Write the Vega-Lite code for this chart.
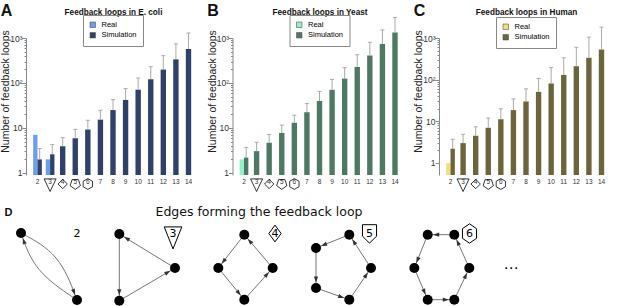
{
  "$schema": "https://vega.github.io/schema/vega-lite/v6.json",
  "background": "white",
  "padding": {"left": 0, "top": 3, "right": 0, "bottom": 0},
  "config": {
    "view": {"stroke": null},
    "font": "Liberation Sans",
    "axis": {"grid": false},
    "title": {"font": "Liberation Sans"}
  },
  "spacing": 11,
  "resolve": {"scale": {"x": "independent", "y": "independent", "shape": "independent", "color": "independent"}},
  "vconcat": [
    {
      "hconcat": [
        {
          "width": 174, "height": 137,
          "title": {"text": "A", "anchor": "start", "frame": "bounds", "fontSize": 16, "fontWeight": "bold", "offset": -12, "color": "#111"},
          "data": {"values": [
            {"n": 2, "type": "Real", "v": 7},
            {"n": 2, "type": "Simulation", "v": 2.0, "up": 3.5},
            {"n": 3, "type": "Real", "v": 2},
            {"n": 3, "type": "Simulation", "v": 2.6, "up": 4.3},
            {"n": 4, "type": "Simulation", "v": 3.9, "up": 6.1},
            {"n": 5, "type": "Simulation", "v": 5.9, "up": 9.3},
            {"n": 6, "type": "Simulation", "v": 9.3, "up": 14.8},
            {"n": 7, "type": "Simulation", "v": 15.3, "up": 24.7},
            {"n": 8, "type": "Simulation", "v": 25, "up": 42.6},
            {"n": 9, "type": "Simulation", "v": 42, "up": 75},
            {"n": 10, "type": "Simulation", "v": 71, "up": 129},
            {"n": 11, "type": "Simulation", "v": 121, "up": 230},
            {"n": 12, "type": "Simulation", "v": 199, "up": 405},
            {"n": 13, "type": "Simulation", "v": 335, "up": 740},
            {"n": 14, "type": "Simulation", "v": 570, "up": 1290}
          ]},
          "resolve": {"axis": {"x": "independent"}},
          "layer": [
            {
              "transform": [{"joinaggregate": [{"op": "count", "as": "k"}], "groupby": ["n"]}, {"filter": "datum.k == 1"}],
              "mark": {"type": "bar", "width": {"band": 0.62}},
              "encoding": {
                "x": {"field": "n", "type": "ordinal", "scale": {"domain": [2,3,4,5,6,7,8,9,10,11,12,13,14], "paddingInner": 0.31, "paddingOuter": 0.57},
                      "axis": {"orient": "bottom", "title": null, "labelAngle": 0, "ticks": false, "tickSize": 0, "domain": false, "labelFontSize": 6.5, "labelPadding": 3, "labelColor": "#333"}},
                "y": {"field": "v", "type": "quantitative", "scale": {"type": "log", "domain": [0.9, 1000], "nice": false},
                      "axis": {"title": "Number of feedback loops", "titleFontSize": 10.5, "titleFontWeight": "normal", "titleColor": "#222", "titlePadding": -1, "titleY": 53,
                               "values": [1,2,3,4,5,6,7,8,9,10,20,30,40,50,60,70,80,90,100,200,300,400,500,600,700,800,900,1000],
                               "labelExpr": "datum.value == 1 ? '1' : datum.value == 10 ? '10' : datum.value == 100 ? '10²' : datum.value == 1000 ? '10³' : ''",
                               "labelOverlap": false, "labelFontSize": 8.5, "labelColor": "#333", "labelPadding": 0,
                               "tickSize": {"condition": {"test": "datum.value == 1 || datum.value == 10 || datum.value == 100 || datum.value == 1000", "value": 4}, "value": 2},
                               "tickColor": "#888", "domainColor": "#888"}},
                "y2": {"datum": 0.9},
                "color": {"field": "type", "type": "nominal", "scale": {"domain": ["Real", "Simulation"], "range": ["#6a9ef2", "#2f406b"]},
                          "legend": {"orient": "none", "legendX": 57, "legendY": -23, "title": null, "strokeColor": "#888", "padding": 6, "labelFontSize": 7.5, "symbolType": "square", "symbolSize": 30, "rowPadding": 1.5, "labelOffset": 5, "symbolStrokeColor": "#555", "symbolStrokeWidth": 0.6}}
              }
            },
            {
              "transform": [{"joinaggregate": [{"op": "count", "as": "k"}], "groupby": ["n"]}, {"filter": "datum.k == 2"}],
              "mark": {"type": "bar"},
              "encoding": {
                "x": {"field": "n", "type": "ordinal", "axis": {"orient": "top", "title": "Feedback loops in E. coli", "labels": false, "ticks": false, "domain": false, "titleFontSize": 8.2, "titleFontWeight": "bold", "titleColor": "#111", "titlePadding": 22}},
                "xOffset": {"field": "type", "type": "nominal", "scale": {"domain": ["Real", "Simulation"], "paddingInner": 0, "paddingOuter": 0}},
                "y": {"field": "v", "type": "quantitative"},
                "y2": {"datum": 0.9},
                "color": {"field": "type", "type": "nominal"}
              }
            },
            {
              "transform": [{"joinaggregate": [{"op": "count", "as": "k"}], "groupby": ["n"]}, {"filter": "datum.k == 1"}],
              "mark": {"type": "rule", "color": "#aaaaaa", "strokeWidth": 1},
              "encoding": {
                "x": {"field": "n", "type": "ordinal", "axis": null},
                "y": {"field": "v", "type": "quantitative"},
                "y2": {"field": "up"}
              }
            },
            {
              "transform": [{"joinaggregate": [{"op": "count", "as": "k"}], "groupby": ["n"]}, {"filter": "datum.k == 2 && datum.type == 'Simulation'"}],
              "mark": {"type": "rule", "color": "#aaaaaa", "strokeWidth": 1},
              "encoding": {
                "x": {"field": "n", "type": "ordinal", "axis": null},
                "xOffset": {"field": "type", "type": "nominal"},
                "y": {"field": "v", "type": "quantitative"},
                "y2": {"field": "up"}
              }
            },
            {
              "transform": [{"joinaggregate": [{"op": "count", "as": "k"}], "groupby": ["n"]}, {"filter": "datum.k == 1"}],
              "mark": {"type": "tick", "color": "#aaaaaa", "size": 4, "thickness": 1, "opacity": 1},
              "encoding": {
                "x": {"field": "n", "type": "ordinal", "axis": null},
                "y": {"field": "up", "type": "quantitative"}
              }
            },
            {
              "transform": [{"joinaggregate": [{"op": "count", "as": "k"}], "groupby": ["n"]}, {"filter": "datum.k == 2 && datum.type == 'Simulation'"}],
              "mark": {"type": "tick", "color": "#aaaaaa", "size": 4, "thickness": 1, "opacity": 1},
              "encoding": {
                "x": {"field": "n", "type": "ordinal", "axis": null},
                "xOffset": {"field": "type", "type": "nominal"},
                "y": {"field": "up", "type": "quantitative"}
              }
            },
            {
              "data": {"values": [{"n": 3}, {"n": 4}, {"n": 5}, {"n": 6}]},
              "mark": {"type": "point", "filled": false, "color": "#000", "size": 144, "strokeWidth": 0.8, "opacity": 1},
              "encoding": {
                "x": {"field": "n", "type": "ordinal", "axis": null},
                "y": {"datum": 0.568, "type": "quantitative"},
                "shape": {"field": "n", "type": "nominal", "legend": null, "scale": {"domain": [3, 4, 5, 6], "range": ["M-1,-0.85L1,-0.85L0,1.25Z", "M0,-0.78L0.78,0L0,0.78L-0.78,0Z", "M0,0.9L0.856,0.278L0.529,-0.728L-0.529,-0.728L-0.856,0.278Z", "M0,-0.9L0.78,-0.45L0.78,0.45L0,0.9L-0.78,0.45L-0.78,-0.45Z"]}}
              }
            }
          ]
        },
        {
          "width": 174, "height": 137,
          "title": {"text": "B", "anchor": "start", "frame": "bounds", "fontSize": 16, "fontWeight": "bold", "offset": -12, "color": "#111"},
          "data": {"values": [
            {"n": 2, "type": "Real", "v": 2},
            {"n": 2, "type": "Simulation", "v": 2.2, "up": 3.7},
            {"n": 3, "type": "Simulation", "v": 3.05, "up": 4.8},
            {"n": 4, "type": "Simulation", "v": 4.7, "up": 7.2},
            {"n": 5, "type": "Simulation", "v": 7.7, "up": 11.6},
            {"n": 6, "type": "Simulation", "v": 13, "up": 19.2},
            {"n": 7, "type": "Simulation", "v": 22.4, "up": 34.8},
            {"n": 8, "type": "Simulation", "v": 39.7, "up": 65},
            {"n": 9, "type": "Simulation", "v": 70.5, "up": 120},
            {"n": 10, "type": "Simulation", "v": 125, "up": 219},
            {"n": 11, "type": "Simulation", "v": 227, "up": 425},
            {"n": 12, "type": "Simulation", "v": 408, "up": 804},
            {"n": 13, "type": "Simulation", "v": 740, "up": 1510},
            {"n": 14, "type": "Simulation", "v": 1320, "up": 2860}
          ]},
          "resolve": {"axis": {"x": "independent"}},
          "layer": [
            {
              "transform": [{"joinaggregate": [{"op": "count", "as": "k"}], "groupby": ["n"]}, {"filter": "datum.k == 1"}],
              "mark": {"type": "bar", "width": {"band": 0.62}},
              "encoding": {
                "x": {"field": "n", "type": "ordinal", "scale": {"domain": [2,3,4,5,6,7,8,9,10,11,12,13,14], "paddingInner": 0.31, "paddingOuter": 0.57},
                      "axis": {"orient": "bottom", "title": null, "labelAngle": 0, "ticks": false, "tickSize": 0, "domain": false, "labelFontSize": 6.5, "labelPadding": 3, "labelColor": "#333"}},
                "y": {"field": "v", "type": "quantitative", "scale": {"type": "log", "domain": [0.9, 1000], "nice": false},
                      "axis": {"title": "Number of feedback loops", "titleFontSize": 10.5, "titleFontWeight": "normal", "titleColor": "#222", "titlePadding": -1, "titleY": 53,
                               "values": [1,2,3,4,5,6,7,8,9,10,20,30,40,50,60,70,80,90,100,200,300,400,500,600,700,800,900,1000],
                               "labelExpr": "datum.value == 1 ? '1' : datum.value == 10 ? '10' : datum.value == 100 ? '10²' : datum.value == 1000 ? '10³' : ''",
                               "labelOverlap": false, "labelFontSize": 8.5, "labelColor": "#333", "labelPadding": 0,
                               "tickSize": {"condition": {"test": "datum.value == 1 || datum.value == 10 || datum.value == 100 || datum.value == 1000", "value": 4}, "value": 2},
                               "tickColor": "#888", "domainColor": "#888"}},
                "y2": {"datum": 0.9},
                "color": {"field": "type", "type": "nominal", "scale": {"domain": ["Real", "Simulation"], "range": ["#93f2c6", "#4d7862"]},
                          "legend": {"orient": "none", "legendX": 57, "legendY": -23, "title": null, "strokeColor": "#888", "padding": 6, "labelFontSize": 7.5, "symbolType": "square", "symbolSize": 30, "rowPadding": 1.5, "labelOffset": 5, "symbolStrokeColor": "#555", "symbolStrokeWidth": 0.6}}
              }
            },
            {
              "transform": [{"joinaggregate": [{"op": "count", "as": "k"}], "groupby": ["n"]}, {"filter": "datum.k == 2"}],
              "mark": {"type": "bar"},
              "encoding": {
                "x": {"field": "n", "type": "ordinal", "axis": {"orient": "top", "title": "Feedback loops in Yeast", "labels": false, "ticks": false, "domain": false, "titleFontSize": 8.2, "titleFontWeight": "bold", "titleColor": "#111", "titlePadding": 22}},
                "xOffset": {"field": "type", "type": "nominal", "scale": {"domain": ["Real", "Simulation"], "paddingInner": 0, "paddingOuter": 0}},
                "y": {"field": "v", "type": "quantitative"},
                "y2": {"datum": 0.9},
                "color": {"field": "type", "type": "nominal"}
              }
            },
            {
              "transform": [{"joinaggregate": [{"op": "count", "as": "k"}], "groupby": ["n"]}, {"filter": "datum.k == 1"}],
              "mark": {"type": "rule", "color": "#aaaaaa", "strokeWidth": 1},
              "encoding": {
                "x": {"field": "n", "type": "ordinal", "axis": null},
                "y": {"field": "v", "type": "quantitative"},
                "y2": {"field": "up"}
              }
            },
            {
              "transform": [{"joinaggregate": [{"op": "count", "as": "k"}], "groupby": ["n"]}, {"filter": "datum.k == 2 && datum.type == 'Simulation'"}],
              "mark": {"type": "rule", "color": "#aaaaaa", "strokeWidth": 1},
              "encoding": {
                "x": {"field": "n", "type": "ordinal", "axis": null},
                "xOffset": {"field": "type", "type": "nominal"},
                "y": {"field": "v", "type": "quantitative"},
                "y2": {"field": "up"}
              }
            },
            {
              "transform": [{"joinaggregate": [{"op": "count", "as": "k"}], "groupby": ["n"]}, {"filter": "datum.k == 1"}],
              "mark": {"type": "tick", "color": "#aaaaaa", "size": 4, "thickness": 1, "opacity": 1},
              "encoding": {
                "x": {"field": "n", "type": "ordinal", "axis": null},
                "y": {"field": "up", "type": "quantitative"}
              }
            },
            {
              "transform": [{"joinaggregate": [{"op": "count", "as": "k"}], "groupby": ["n"]}, {"filter": "datum.k == 2 && datum.type == 'Simulation'"}],
              "mark": {"type": "tick", "color": "#aaaaaa", "size": 4, "thickness": 1, "opacity": 1},
              "encoding": {
                "x": {"field": "n", "type": "ordinal", "axis": null},
                "xOffset": {"field": "type", "type": "nominal"},
                "y": {"field": "up", "type": "quantitative"}
              }
            },
            {
              "data": {"values": [{"n": 3}, {"n": 4}, {"n": 5}, {"n": 6}]},
              "mark": {"type": "point", "filled": false, "color": "#000", "size": 144, "strokeWidth": 0.8, "opacity": 1},
              "encoding": {
                "x": {"field": "n", "type": "ordinal", "axis": null},
                "y": {"datum": 0.568, "type": "quantitative"},
                "shape": {"field": "n", "type": "nominal", "legend": null, "scale": {"domain": [3, 4, 5, 6], "range": ["M-1,-0.85L1,-0.85L0,1.25Z", "M0,-0.78L0.78,0L0,0.78L-0.78,0Z", "M0,0.9L0.856,0.278L0.529,-0.728L-0.529,-0.728L-0.856,0.278Z", "M0,-0.9L0.78,-0.45L0.78,0.45L0,0.9L-0.78,0.45L-0.78,-0.45Z"]}}
              }
            }
          ]
        },
        {
          "width": 174, "height": 137,
          "title": {"text": "C", "anchor": "start", "frame": "bounds", "fontSize": 16, "fontWeight": "bold", "offset": -12, "color": "#111"},
          "data": {"values": [
            {"n": 2, "type": "Real", "v": 1},
            {"n": 2, "type": "Simulation", "v": 2.2, "up": 3.7},
            {"n": 3, "type": "Simulation", "v": 3.0, "up": 4.9},
            {"n": 4, "type": "Simulation", "v": 4.5, "up": 7.4},
            {"n": 5, "type": "Simulation", "v": 7.0, "up": 12},
            {"n": 6, "type": "Simulation", "v": 11.2, "up": 20},
            {"n": 7, "type": "Simulation", "v": 18.6, "up": 34.5},
            {"n": 8, "type": "Simulation", "v": 30, "up": 60},
            {"n": 9, "type": "Simulation", "v": 51, "up": 107},
            {"n": 10, "type": "Simulation", "v": 81, "up": 195},
            {"n": 11, "type": "Simulation", "v": 130, "up": 335},
            {"n": 12, "type": "Simulation", "v": 210, "up": 600},
            {"n": 13, "type": "Simulation", "v": 335, "up": 1050},
            {"n": 14, "type": "Simulation", "v": 530, "up": 1820}
          ]},
          "resolve": {"axis": {"x": "independent"}},
          "layer": [
            {
              "transform": [{"joinaggregate": [{"op": "count", "as": "k"}], "groupby": ["n"]}, {"filter": "datum.k == 1"}],
              "mark": {"type": "bar", "width": {"band": 0.62}},
              "encoding": {
                "x": {"field": "n", "type": "ordinal", "scale": {"domain": [2,3,4,5,6,7,8,9,10,11,12,13,14], "paddingInner": 0.31, "paddingOuter": 0.57},
                      "axis": {"orient": "bottom", "title": null, "labelAngle": 0, "ticks": false, "tickSize": 0, "domain": false, "labelFontSize": 6.5, "labelPadding": 3, "labelColor": "#333"}},
                "y": {"field": "v", "type": "quantitative", "scale": {"type": "log", "domain": [0.515, 1000], "nice": false},
                      "axis": {"title": "Number of feedback loops", "titleFontSize": 10.5, "titleFontWeight": "normal", "titleColor": "#222", "titlePadding": -1, "titleY": 53,
                               "values": [1,2,3,4,5,6,7,8,9,10,20,30,40,50,60,70,80,90,100,200,300,400,500,600,700,800,900,1000],
                               "labelExpr": "datum.value == 1 ? '1' : datum.value == 10 ? '10' : datum.value == 100 ? '10²' : datum.value == 1000 ? '10³' : ''",
                               "labelOverlap": false, "labelFontSize": 8.5, "labelColor": "#333", "labelPadding": 0,
                               "tickSize": {"condition": {"test": "datum.value == 1 || datum.value == 10 || datum.value == 100 || datum.value == 1000", "value": 4}, "value": 2},
                               "tickColor": "#888", "domainColor": "#888"}},
                "y2": {"datum": 0.515},
                "color": {"field": "type", "type": "nominal", "scale": {"domain": ["Real", "Simulation"], "range": ["#efe07a", "#6c643a"]},
                          "legend": {"orient": "none", "legendX": 57, "legendY": -21, "title": null, "strokeColor": "#888", "padding": 6, "labelFontSize": 7.5, "symbolType": "square", "symbolSize": 30, "rowPadding": 1.5, "labelOffset": 5, "symbolStrokeColor": "#555", "symbolStrokeWidth": 0.6}}
              }
            },
            {
              "transform": [{"joinaggregate": [{"op": "count", "as": "k"}], "groupby": ["n"]}, {"filter": "datum.k == 2"}],
              "mark": {"type": "bar"},
              "encoding": {
                "x": {"field": "n", "type": "ordinal", "axis": {"orient": "top", "title": "Feedback loops in Human", "labels": false, "ticks": false, "domain": false, "titleFontSize": 8.2, "titleFontWeight": "bold", "titleColor": "#111", "titlePadding": 22}},
                "xOffset": {"field": "type", "type": "nominal", "scale": {"domain": ["Real", "Simulation"], "paddingInner": 0, "paddingOuter": 0}},
                "y": {"field": "v", "type": "quantitative"},
                "y2": {"datum": 0.515},
                "color": {"field": "type", "type": "nominal"}
              }
            },
            {
              "transform": [{"joinaggregate": [{"op": "count", "as": "k"}], "groupby": ["n"]}, {"filter": "datum.k == 1"}],
              "mark": {"type": "rule", "color": "#aaaaaa", "strokeWidth": 1},
              "encoding": {
                "x": {"field": "n", "type": "ordinal", "axis": null},
                "y": {"field": "v", "type": "quantitative"},
                "y2": {"field": "up"}
              }
            },
            {
              "transform": [{"joinaggregate": [{"op": "count", "as": "k"}], "groupby": ["n"]}, {"filter": "datum.k == 2 && datum.type == 'Simulation'"}],
              "mark": {"type": "rule", "color": "#aaaaaa", "strokeWidth": 1},
              "encoding": {
                "x": {"field": "n", "type": "ordinal", "axis": null},
                "xOffset": {"field": "type", "type": "nominal"},
                "y": {"field": "v", "type": "quantitative"},
                "y2": {"field": "up"}
              }
            },
            {
              "transform": [{"joinaggregate": [{"op": "count", "as": "k"}], "groupby": ["n"]}, {"filter": "datum.k == 1"}],
              "mark": {"type": "tick", "color": "#aaaaaa", "size": 4, "thickness": 1, "opacity": 1},
              "encoding": {
                "x": {"field": "n", "type": "ordinal", "axis": null},
                "y": {"field": "up", "type": "quantitative"}
              }
            },
            {
              "transform": [{"joinaggregate": [{"op": "count", "as": "k"}], "groupby": ["n"]}, {"filter": "datum.k == 2 && datum.type == 'Simulation'"}],
              "mark": {"type": "tick", "color": "#aaaaaa", "size": 4, "thickness": 1, "opacity": 1},
              "encoding": {
                "x": {"field": "n", "type": "ordinal", "axis": null},
                "xOffset": {"field": "type", "type": "nominal"},
                "y": {"field": "up", "type": "quantitative"}
              }
            },
            {
              "data": {"values": [{"n": 3}, {"n": 4}, {"n": 5}, {"n": 6}]},
              "mark": {"type": "point", "filled": false, "color": "#000", "size": 144, "strokeWidth": 0.8, "opacity": 1},
              "encoding": {
                "x": {"field": "n", "type": "ordinal", "axis": null},
                "y": {"datum": 0.313, "type": "quantitative"},
                "shape": {"field": "n", "type": "nominal", "legend": null, "scale": {"domain": [3, 4, 5, 6], "range": ["M-1,-0.85L1,-0.85L0,1.25Z", "M0,-0.78L0.78,0L0,0.78L-0.78,0Z", "M0,0.9L0.856,0.278L0.529,-0.728L-0.529,-0.728L-0.856,0.278Z", "M0,-0.9L0.78,-0.45L0.78,0.45L0,0.9L-0.78,0.45L-0.78,-0.45Z"]}}
              }
            }
          ]
        }
      ],
      "spacing": 32.5,
      "bounds": "flush",
      "resolve": {"scale": {"x": "independent", "y": "independent", "color": "independent", "shape": "independent", "xOffset": "independent"}, "legend": {"color": "independent"}}
    },
    {
      "width": 600, "height": 80,
      "title": {"text": "Edges forming the feedback loop", "font": "DejaVu Sans", "fontSize": 12.5, "fontWeight": "normal", "anchor": "middle", "dx": -67, "offset": -12, "color": "#111"},
      "layer": [
        {
          "data": {"values": [
            {"edge": "a", "k": 0, "x": 2.0, "y": 0.8}, {"edge": "a", "k": 1, "x": 5.85, "y": 2.875}, {"edge": "a", "k": 2, "x": 7.6, "y": 7.5},
            {"edge": "b", "k": 0, "x": 7.6, "y": 7.5}, {"edge": "b", "k": 1, "x": 3.345, "y": 4.63}, {"edge": "b", "k": 2, "x": 2.0, "y": 0.8}
          ]},
          "mark": {"type": "line", "interpolate": "basis", "color": "#666", "strokeWidth": 0.9},
          "encoding": {
            "x": {"field": "x", "type": "quantitative", "scale": {"domain": [2.5, 62.5], "nice": false, "zero": false},
                  "axis": {"orient": "top", "title": "D", "titleX": -22, "titleAlign": "left", "titleFontSize": 11, "titleFontWeight": "bold", "titleColor": "#111", "titlePadding": 8, "labels": false, "ticks": false, "domain": false, "grid": false}},
            "y": {"field": "y", "type": "quantitative", "scale": {"domain": [0, 8], "reverse": true, "nice": false, "zero": false}, "axis": null},
            "detail": {"field": "edge"},
            "order": {"field": "k"}
          }
        },
        {
          "data": {"values": [
            {"x": 11.83, "y": 7.57, "x2": 17.4, "y2": 4.3}, {"x": 17.4, "y": 4.3, "x2": 11.83, "y2": 0.9}, {"x": 11.83, "y": 0.9, "x2": 11.83, "y2": 7.57},
            {"x": 24.33, "y": 0.97, "x2": 21.73, "y2": 4.3}, {"x": 21.73, "y": 4.3, "x2": 24.33, "y2": 7.47}, {"x": 24.33, "y": 7.47, "x2": 27.17, "y2": 4.3}, {"x": 27.17, "y": 4.3, "x2": 24.33, "y2": 0.97},
            {"x": 34.83, "y": 0.97, "x2": 31.5, "y2": 2.3}, {"x": 31.5, "y": 2.3, "x2": 31.5, "y2": 6.3}, {"x": 31.5, "y": 6.3, "x2": 34.83, "y2": 7.47}, {"x": 34.83, "y": 7.47, "x2": 37.0, "y2": 4.3}, {"x": 37.0, "y": 4.3, "x2": 34.83, "y2": 0.97},
            {"x": 45.33, "y": 0.97, "x2": 42.67, "y2": 0.97}, {"x": 42.67, "y": 0.97, "x2": 41.33, "y2": 4.3}, {"x": 41.33, "y": 4.3, "x2": 42.67, "y2": 7.47}, {"x": 42.67, "y": 7.47, "x2": 45.33, "y2": 7.47}, {"x": 45.33, "y": 7.47, "x2": 46.83, "y2": 4.3}, {"x": 46.83, "y": 4.3, "x2": 45.33, "y2": 0.97}
          ]},
          "mark": {"type": "rule", "color": "#666", "strokeWidth": 0.9},
          "encoding": {
            "x": {"field": "x", "type": "quantitative"},
            "y": {"field": "y", "type": "quantitative", "axis": null},
            "x2": {"field": "x2"},
            "y2": {"field": "y2"}
          }
        },
        {
          "data": {"values": [
            {"x": 7.30, "y": 6.71, "a": 69.3}, {"x": 2.28, "y": 1.60, "a": 250.7},
            {"x": 16.67, "y": 4.73, "a": 329.6}, {"x": 12.56, "y": 1.34, "a": 211.4}, {"x": 11.83, "y": 6.72, "a": 90},
            {"x": 22.25, "y": 3.63, "a": 128.0}, {"x": 23.79, "y": 6.81, "a": 50.6}, {"x": 26.60, "y": 4.93, "a": 311.8}, {"x": 24.88, "y": 1.62, "a": 229.5},
            {"x": 32.29, "y": 1.98, "a": 158.2}, {"x": 31.5, "y": 5.45, "a": 90}, {"x": 34.03, "y": 7.19, "a": 19.4}, {"x": 36.52, "y": 5.00, "a": 304.4}, {"x": 35.29, "y": 1.68, "a": 236.9},
            {"x": 43.52, "y": 0.97, "a": 180}, {"x": 41.65, "y": 3.51, "a": 111.9}, {"x": 42.34, "y": 6.69, "a": 67.1}, {"x": 44.48, "y": 7.47, "a": 0}, {"x": 46.47, "y": 5.07, "a": 295.3}, {"x": 45.68, "y": 1.75, "a": 245.7}
          ]},
          "mark": {"type": "point", "shape": "M1,0L-1,-0.7L-1,0.7Z", "filled": true, "color": "#333", "size": 36, "opacity": 1},
          "encoding": {
            "x": {"field": "x", "type": "quantitative"},
            "y": {"field": "y", "type": "quantitative", "axis": null},
            "angle": {"field": "a", "type": "quantitative", "scale": null}
          }
        },
        {
          "data": {"values": [
            {"x": 2.0, "y": 0.8}, {"x": 7.6, "y": 7.5},
            {"x": 11.83, "y": 0.9}, {"x": 17.4, "y": 4.3}, {"x": 11.83, "y": 7.57},
            {"x": 24.33, "y": 0.97}, {"x": 21.73, "y": 4.3}, {"x": 27.17, "y": 4.3}, {"x": 24.33, "y": 7.47},
            {"x": 34.83, "y": 0.97}, {"x": 31.5, "y": 2.3}, {"x": 31.5, "y": 6.3}, {"x": 34.83, "y": 7.47}, {"x": 37.0, "y": 4.3},
            {"x": 42.67, "y": 0.97}, {"x": 45.33, "y": 0.97}, {"x": 41.33, "y": 4.3}, {"x": 46.83, "y": 4.3}, {"x": 42.67, "y": 7.47}, {"x": 45.33, "y": 7.47}
          ]},
          "mark": {"type": "circle", "color": "#000", "size": 100, "opacity": 1},
          "encoding": {
            "x": {"field": "x", "type": "quantitative"},
            "y": {"field": "y", "type": "quantitative", "axis": null}
          }
        },
        {
          "data": {"values": [
            {"loop": 2, "x": 7.6, "y": 0.85}, {"loop": 3, "x": 17.2, "y": 0.85}, {"loop": 4, "x": 27.4, "y": 0.85}, {"loop": 5, "x": 36.85, "y": 0.85}, {"loop": 6, "x": 46.85, "y": 0.85}
          ]},
          "layer": [
            {
              "mark": {"type": "text", "font": "DejaVu Sans", "fontSize": 11, "color": "#000", "baseline": "middle", "align": "center"},
              "encoding": {
                "x": {"field": "x", "type": "quantitative"},
                "y": {"field": "y", "type": "quantitative", "axis": null},
                "text": {"field": "loop", "type": "nominal"}
              }
            },
            {
              "transform": [{"filter": "datum.loop >= 3"}],
              "mark": {"type": "point", "filled": false, "color": "#000", "size": 310, "strokeWidth": 1, "opacity": 1},
              "encoding": {
                "x": {"field": "x", "type": "quantitative"},
                "y": {"field": "y", "type": "quantitative", "axis": null},
                "shape": {"field": "loop", "type": "nominal", "legend": null, "scale": {"domain": [3, 4, 5, 6], "range": ["M-1,-0.75L1,-0.75L0,1.75Z", "M0,-0.95L0.7,0L0,0.95L-0.7,0Z", "M-0.8,-1L0.8,-1L0.8,0.3L0,1.1L-0.8,0.3Z", "M0,-1.1L0.8,-0.55L0.8,0.55L0,1.1L-0.8,0.55L-0.8,-0.55Z"]}}
              }
            }
          ]
        },
        {
          "data": {"values": [{"x": 51.0, "y": 4.3, "t": "⋯"}]},
          "mark": {"type": "text", "font": "DejaVu Sans", "fontSize": 15, "color": "#000", "baseline": "middle", "align": "center"},
          "encoding": {
            "x": {"field": "x", "type": "quantitative"},
            "y": {"field": "y", "type": "quantitative", "axis": null},
            "text": {"field": "t", "type": "nominal"}
          }
        }
      ]
    }
  ]
}
